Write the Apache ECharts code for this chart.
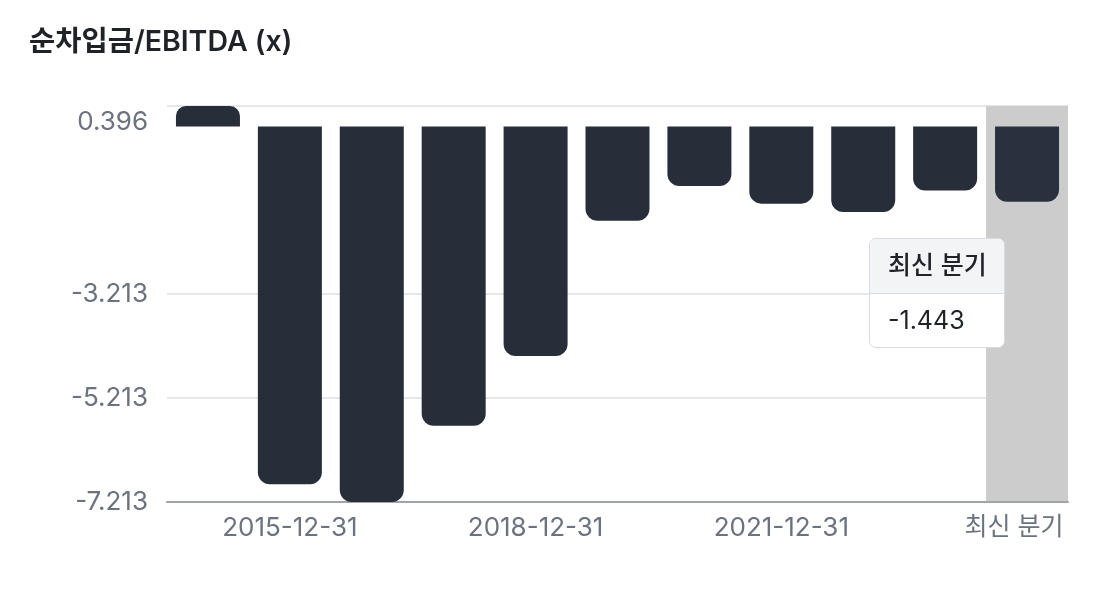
<!DOCTYPE html>
<html>
<head>
<meta charset="utf-8">
<script src="https://cdn.jsdelivr.net/npm/echarts@6/dist/echarts.min.js"></script>
<style>
html,body{margin:0;padding:0;background:#fff;}
#chart{width:1108px;height:596px;}
</style>
</head>
<body>
<div id="chart"></div>
<script>
const titleText = '순차입금/EBITDA (x)';
const categories = ['2014-12-31','2015-12-31','2016-12-31','2017-12-31','2018-12-31','2019-12-31','2020-12-31','2021-12-31','2022-12-31','2023-12-31','최신 분기'];
const values = [0.396, -6.87, -7.213, -5.75, -4.41, -1.81, -1.14, -1.48, -1.64, -1.23, -1.443];
const yTickLabels = [-7.213, -5.213, -3.213, 0.396];
const yMin = -7.213, yMax = 0.396;

const FONT = "Inter, 'Noto Sans CJK KR', sans-serif";
const BAR = '#272d39';
const lastIdx = categories.length - 1;

const chart = echarts.init(document.getElementById('chart'));
chart.setOption({
  animation: false,
  title: {
    text: titleText, left: 24, top: 23,
    textStyle: {fontFamily: FONT, fontSize: 28.5, fontWeight: 600, color: '#1f2328'}
  },
  grid: {left: 167, right: 40, top: 106, bottom: 94},
  tooltip: {
    trigger: 'axis',
    alwaysShowContent: true,
    transitionDuration: 0,
    axisPointer: {type: 'shadow', z: 0, shadowStyle: {color: '#cccccc', opacity: 1}},
    padding: 0,
    borderWidth: 0,
    backgroundColor: 'transparent',
    extraCssText: 'box-shadow:none;',
    position: function () { return [869, 238]; },
    formatter: function (params) {
      const p = params[0];
      return '<div style="box-sizing:border-box;border:1.5px solid #d8dbe0;border-radius:7px;overflow:hidden;background:#fff;width:136px;font-family:Inter,&quot;Noto Sans CJK KR&quot;,sans-serif;">' +
        '<div style="background:#f3f4f6;border-bottom:1.5px solid #d8dbe0;padding:11px 18px 12px 18px;font-size:25px;line-height:31px;font-weight:500;color:#1f2328;">' + p.name + '</div>' +
        '<div style="padding:11px 18px 11px 18px;font-size:25px;line-height:31px;color:#1f2328;">' + p.value + '</div></div>';
    }
  },
  xAxis: {
    type: 'category',
    data: categories,
    z: 3,
    axisLine: {onZero: false, lineStyle: {color: '#9ea3ae', width: 2}},
    axisTick: {
      alignWithLabel: true, length: 11, lineStyle: {color: '#9ea3ae', width: 2},
      interval: function (i) { return i % 3 === 1; }
    },
    axisLabel: {
      interval: function (i) { return i % 3 === 1; },
      fontFamily: FONT, fontSize: 26, color: '#6b7280', margin: 13,
      formatter: function (v, i) {
        return i === lastIdx ? '{last|' + v + '}' : v;
      },
      rich: {
        last: {fontFamily: FONT, fontSize: 25, color: '#6b7280', padding: [0, 26, 0, 0]}
      }
    }
  },
  yAxis: {
    type: 'value',
    min: yMin, max: yMax,
    axisLine: {show: false},
    axisTick: {show: false, customValues: yTickLabels},
    splitLine: {show: true, lineStyle: {color: '#e5e7eb', width: 2}},
    axisLabel: {
      customValues: yTickLabels,
      fontFamily: FONT, fontSize: 26, color: '#6b7280', margin: 19,
      formatter: function (v) {
        if (Math.abs(v - yMax) < 1e-6) return '{top|' + v.toFixed(3) + '}';
        return v.toFixed(3);
      },
      rich: {
        top: {fontFamily: FONT, fontSize: 26, color: '#6b7280', padding: [32, 0, 0, 0]}
      }
    }
  },
  series: [{
    type: 'bar',
    z: 5,
    barWidth: 64,
    data: values.map(v => ({
      value: v,
      itemStyle: {color: BAR, borderRadius: v >= 0 ? [10, 10, 0, 0] : [0, 0, 12, 12]}
    }))
  }]
});
chart.dispatchAction({type: 'showTip', seriesIndex: 0, dataIndex: lastIdx});
</script>
</body>
</html>
